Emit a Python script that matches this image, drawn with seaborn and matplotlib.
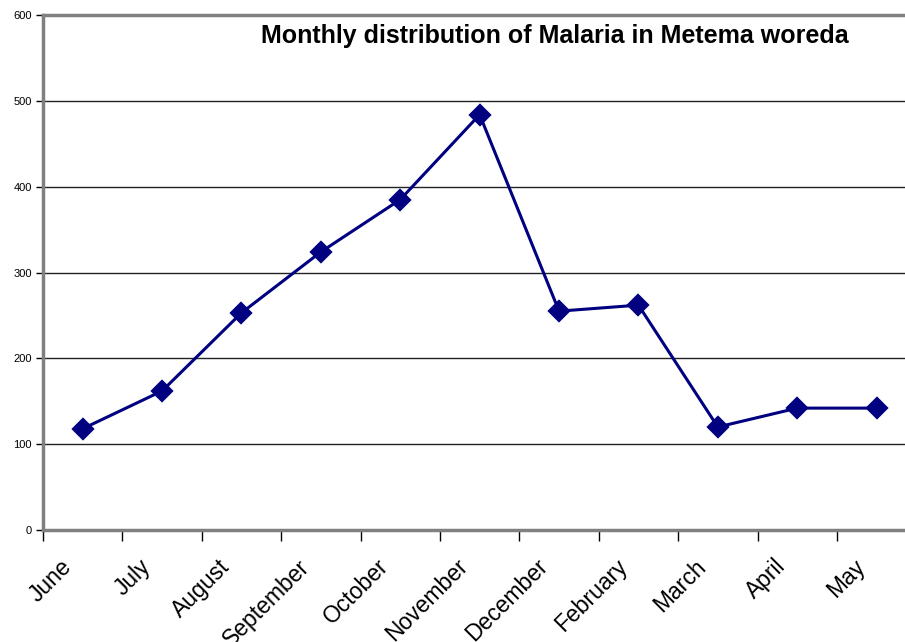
import pandas as pd
import matplotlib.pyplot as plt
import matplotlib.transforms as mtransforms
from matplotlib.ticker import FixedLocator
import seaborn as sns

# =========================
# Data
# =========================

months = ["June", "July", "August", "September", "October", "November",
          "December", "February", "March", "April", "May"]
cases = [118, 162, 253, 324, 385, 484, 255, 262, 120, 142, 142]

df = pd.DataFrame({"month": months, "cases": cases})

# =========================
# Style
# =========================

sns.set_style("white")
plt.rcParams["font.family"] = ["Liberation Sans", "DejaVu Sans"]
plt.rcParams["text.color"] = "black"
plt.rcParams["xtick.color"] = "black"
plt.rcParams["ytick.color"] = "black"

fig = plt.figure(figsize=(9.05, 6.42), dpi=100)
ax = fig.add_axes([0.0475, 0.1745, 0.965, 0.802])

sns.pointplot(data=df, x="month", y="cases", color="#000080",
              markers="D", markersize=10, linewidth=2.2, ax=ax)

ax.set_ylim(0, 600)
ax.set_xlim(-0.5, len(months) - 0.5)
ax.set_yticks(range(0, 601, 100))
ax.yaxis.grid(True, color="#222222", linewidth=1)
ax.set_axisbelow(True)

# category boundaries get the tick marks, labels sit in the middle
ax.xaxis.set_minor_locator(FixedLocator([i - 0.5 for i in range(len(months) + 1)]))
ax.tick_params(axis="x", which="both", bottom=True)
ax.tick_params(axis="x", which="major", length=0, pad=18, labelsize=16.5)
ax.tick_params(axis="x", which="minor", length=8, width=1, color="black", direction="out")
ax.tick_params(axis="y", left=True, length=5, width=1, color="black", direction="out",
               labelsize=8, pad=3)

# shift rotated labels a bit left so they end just before the point
shift = mtransforms.ScaledTranslation(-23 / 100, 0, fig.dpi_scale_trans)
for lbl in ax.get_xticklabels():
    lbl.set_rotation(45)
    lbl.set_ha("right")
    lbl.set_rotation_mode("anchor")
    lbl.set_transform(lbl.get_transform() + shift)

for side in ["left", "bottom", "top"]:
    ax.spines[side].set_color("#808080")
    ax.spines[side].set_linewidth(2.5)
ax.spines["right"].set_visible(False)

ax.set_xlabel("")
ax.set_ylabel("")

ax.text(0.613, 1 - 43 / 642, "Monthly distribution of Malaria in Metema woreda",
        transform=fig.transFigure, ha="center", va="baseline",
        fontsize=18, fontweight="bold")

plt.savefig("out.png", dpi=100)
